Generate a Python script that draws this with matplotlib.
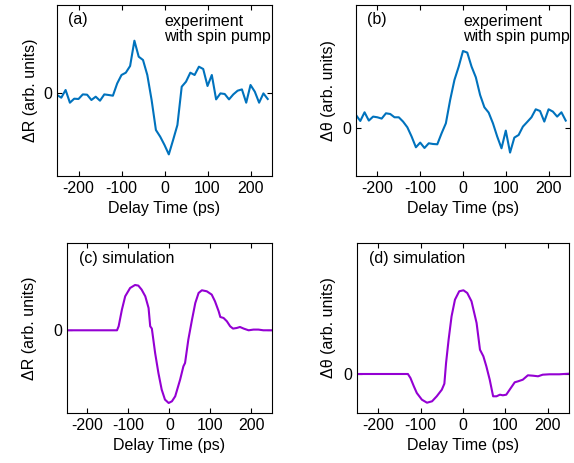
import numpy as np
import matplotlib.pyplot as plt

plt.rcParams['font.family'] = ['Liberation Sans', 'DejaVu Sans']
plt.rcParams['axes.unicode_minus'] = False

# experiment, 10 ps steps
t_exp = np.arange(-250, 241, 10)
dr_exp = [-2.3, -5, 2.7, -10, -6, -6.3, -1.7, -2, -7.3, -4,
          -8, -1.7, -2.3, -3, 9.3, 17.7, 20, 26.7, 52, 36,
          32.7, 17.7, -7.3, -37.3, -44, -52.3, -61.7, -47.3, -32.3, 6,
          11, 20, 17.7, 26, 23.7, 6.7, 17.7, -6.7, -0.7, -1.3,
          -6.7, -1.7, 2, 3.3, -10, 7.7, 1, -10, -0.7, -6.3]
dth_exp = [13.3, 7.3, 16, 7.7, 11.7, 11, 9.7, 15, 14.3, 11,
           11, 6.7, 1, -8.3, -19, -14.3, -19.7, -15, -15.7, -16,
           -5, 5, 28.3, 48.3, 61.7, 77.3, 75.7, 61.7, 51, 33.3,
           21, 15.7, 5, -8.3, -20, -2.3, -24.3, -9.3, -6.7, 1.7,
           6.3, 11, 19, 17.3, 6.7, 19, 16.7, 11.7, 16, 7.7]

# simulation
t_sim_r = [-250, -128, -124, -116, -108, -96, -84, -76, -68, -59, -51, -47, -43,
           -35, -27, -19, -11, -2, 6, 14, 26, 34, 38, 46, 55, 63, 71, 79, 91,
           103, 111, 120, 124, 132, 140, 148, 155, 164, 172, 181, 193, 205,
           217, 229, 250]
dr_sim = [0, 0, 4, 20.7, 34, 42.3, 45.3, 44.7, 40.7, 34, 22.3, 4, 1.7,
          -22.7, -42.7, -59.3, -69.3, -72.7, -71, -66, -49.3, -36, -32.7, -9.3,
          10.7, 27.3, 37.3, 40, 39, 35.7, 29, 19, 13.3, 12.3, 9, 4, 1.7, 2.3,
          3.3, 1.7, 0, 0.7, 0.7, 0, 0]
t_sim_th = [-250, -130, -124, -116, -109, -97, -85, -73, -62, -50, -44, -40,
            -34, -27, -19, -9, 1, 10, 20, 32, 40, 48, 55, 63, 71, 79, 87, 94,
            102, 110, 122, 130, 141, 153, 165, 177, 188, 204, 227, 250]
dth_sim = [0, 0, -4, -12.3, -19, -25.7, -28.7, -27.3, -22.3, -15.7, -9.7, 11,
           34.3, 57.7, 74.3, 82.7, 83.7, 81, 72.7, 51, 24.3, 17.7, 7.7, -5.7,
           -22.3, -22.3, -20.7, -21.3, -20.7, -15.7, -8.3, -7.3, -5.7, -1.3,
           -1.7, -2.3, -0.7, -0.3, -0.3, 0.3]

blue = '#0072BD'
purple = '#9400D3'
fs = 11.5

fig = plt.figure(figsize=(5.74, 4.63), dpi=100)

panels = [
    ([0.0993, 0.6199, 0.3746, 0.3693], t_exp, dr_exp, blue, (-83.3, 87.7), 'ΔR (arb. units)', -0.09),
    ([0.6202, 0.6199, 0.3728, 0.3693], t_exp, dth_exp, blue, (-47.7, 123.3), 'Δθ (arb. units)', -0.095),
    ([0.1167, 0.1080, 0.3571, 0.3672], t_sim_r, dr_sim, purple, (-82.7, 87.3), 'ΔR (arb. units)', -0.145),
    ([0.6220, 0.1080, 0.3693, 0.3672], t_sim_th, dth_sim, purple, (-39, 131), 'Δθ (arb. units)', -0.10),
]

axes = []
for rect, x, y, c, yl, lab, lx in panels:
    ax = fig.add_axes(rect)
    ax.plot(x, y, color=c, lw=1.5)
    ax.set_xlim(-250, 250)
    ax.set_ylim(*yl)
    ax.set_xticks([-200, -100, 0, 100, 200])
    ax.set_yticks([0])
    ax.tick_params(direction='in', top=True, right=True, length=3.5, labelsize=fs)
    ax.set_xlabel('Delay Time (ps)', fontsize=fs)
    ax.set_ylabel(lab, fontsize=fs)
    ax.yaxis.set_label_coords(lx, 0.5)
    axes.append(ax)

axes[0].text(0.05, 0.89, '(a)', transform=axes[0].transAxes, fontsize=fs)
axes[0].text(0.5, 0.79, 'experiment\nwith spin pump', transform=axes[0].transAxes,
             fontsize=fs, linespacing=1.0)
axes[1].text(0.05, 0.89, '(b)', transform=axes[1].transAxes, fontsize=fs)
axes[1].text(0.5, 0.79, 'experiment\nwith spin pump', transform=axes[1].transAxes,
             fontsize=fs, linespacing=1.0)
axes[2].text(0.06, 0.88, '(c) simulation', transform=axes[2].transAxes, fontsize=fs)
axes[3].text(0.055, 0.88, '(d) simulation', transform=axes[3].transAxes, fontsize=fs)

fig.savefig('out.png', dpi=100)
